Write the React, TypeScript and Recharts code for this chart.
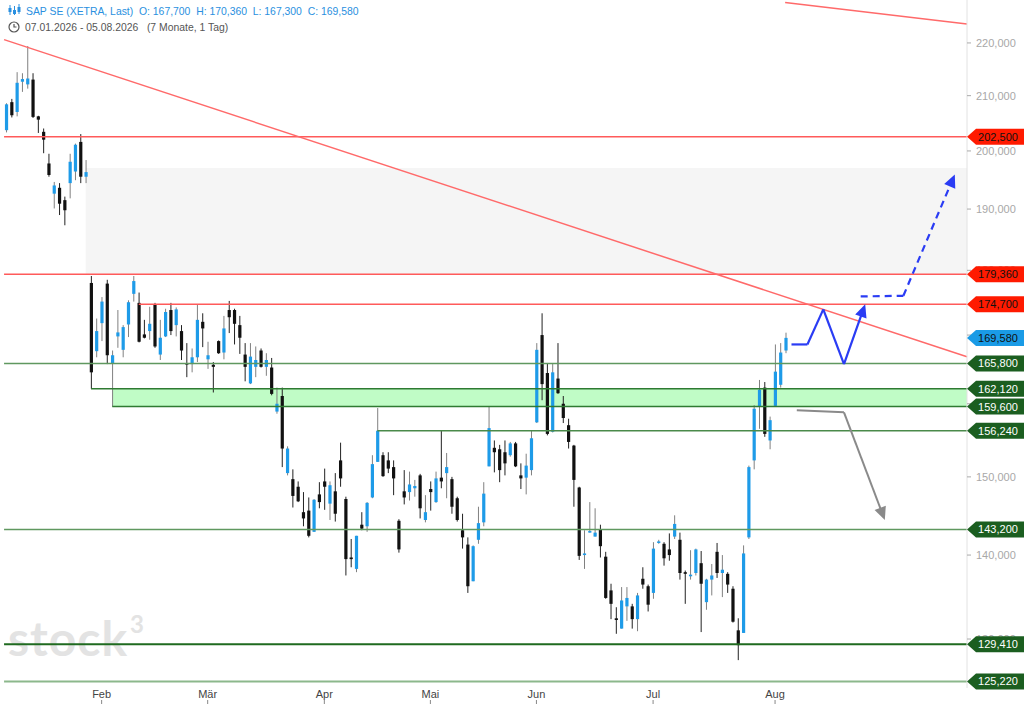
import React from 'react';
import { ComposedChart, Bar, XAxis, YAxis, ReferenceLine, ReferenceArea } from 'recharts';

// daily OHLC, 07.01.2026 - 05.08.2026 (148 trading days)
const opens = [
  203.7, 208.8, 207.0, 212.6, 212.1, 213.0, 206.2, 203.4, 197.8, 192.6, 193.6, 191.5, 194.4, 196.4, 201.6, 195.5,
  178.0, 167.6, 171.8, 177.9, 165.8, 169.8, 167.8, 171.6, 176.3, 174.9, 170.1, 170.6, 174.7, 167.1, 169.8, 173.8,
  171.5, 170.6, 165.8, 165.7, 166.7, 172.0, 166.4, 165.6, 169.1, 167.4, 173.8, 173.8, 171.5, 167.1, 162.9, 165.3,
  167.7, 165.3, 165.2, 158.9, 161.1, 150.5, 149.7, 148.7, 145.4, 145.6, 142.9, 147.7, 149.4, 146.5, 148.1, 152.2,
  147.1, 139.7, 138.3, 143.8, 143.6, 147.3, 152.0, 152.9, 152.2, 151.3, 144.3, 148.1, 148.0, 148.5, 150.2, 144.4,
  148.4, 146.7, 149.9, 150.5, 149.7, 147.2, 143.1, 141.3, 136.8, 141.9, 144.1, 151.4, 153.9, 153.7, 153.3, 152.9,
  154.5, 150.2, 149.9, 150.9, 157.4, 170.0, 164.4, 156.1, 163.6, 160.0, 157.0, 154.2, 148.6, 140.0, 142.8, 142.3,
  143.2, 139.8, 135.7, 132.4, 131.2, 133.8, 133.8, 132.3, 137.1, 136.2, 135.4, 141.5, 141.4, 140.7, 142.3, 141.9,
  137.9, 137.4, 137.8, 139.0, 134.3, 137.0, 140.4, 137.8, 137.7, 135.9, 131.0, 130.7, 142.2, 152.2, 159.6, 162.3,
  154.9, 159.7, 162.7, 167.7,
];
const highs = [
  208.6, 209.4, 214.4, 214.2, 219.4, 214.2, 206.3, 204.0, 199.5, 194.6, 194.4, 192.1, 199.5, 201.3, 203.0, 198.4,
  179.1, 172.5, 175.8, 178.5, 167.7, 173.8, 171.5, 175.3, 179.1, 176.5, 172.3, 174.3, 174.9, 172.3, 174.0, 174.9,
  174.2, 171.5, 168.8, 168.0, 174.6, 173.3, 169.0, 166.0, 169.2, 172.9, 175.2, 174.0, 172.9, 168.8, 168.8, 168.3,
  168.0, 167.3, 166.6, 162.3, 162.3, 154.1, 151.0, 149.4, 148.0, 147.3, 147.1, 149.3, 151.1, 149.4, 150.5, 154.6,
  147.4, 142.0, 142.4, 145.4, 146.7, 152.9, 159.4, 153.3, 153.3, 152.2, 144.5, 150.9, 150.7, 149.6, 150.4, 147.6,
  149.4, 150.7, 156.3, 153.2, 150.0, 147.4, 145.2, 142.2, 141.2, 146.1, 149.3, 159.6, 154.9, 154.3, 154.9, 154.7,
  154.7, 151.8, 153.1, 156.2, 168.8, 173.3, 165.8, 165.8, 168.8, 161.1, 157.9, 154.3, 148.7, 143.1, 146.7, 145.9,
  143.8, 140.4, 136.5, 133.7, 136.1, 136.1, 134.1, 135.4, 138.5, 136.4, 141.6, 141.9, 141.6, 142.7, 145.0, 142.8,
  138.1, 140.6, 140.8, 140.5, 137.1, 138.9, 141.5, 140.0, 137.9, 136.2, 132.4, 141.2, 151.5, 159.8, 163.4, 163.1,
  158.2, 168.6, 168.8, 170.36,
];
const lows = [
  203.3, 206.0, 206.2, 210.7, 211.3, 205.9, 203.2, 199.6, 195.5, 190.1, 189.0, 187.3, 191.8, 194.9, 194.4, 194.4,
  162.12, 166.7, 169.1, 165.7, 159.6, 168.1, 166.7, 169.7, 175.1, 168.9, 169.5, 169.3, 168.1, 166.3, 169.7, 170.0,
  169.8, 166.3, 163.8, 164.5, 166.0, 168.2, 165.0, 161.6, 167.2, 166.4, 170.3, 168.6, 167.2, 163.2, 162.8, 163.8,
  165.2, 164.0, 161.2, 158.6, 151.3, 150.2, 146.0, 146.7, 143.6, 142.2, 142.9, 145.9, 145.7, 144.4, 144.2, 148.7,
  137.5, 138.5, 137.9, 143.1, 142.9, 147.2, 152.0, 150.0, 150.5, 147.6, 140.3, 146.4, 146.9, 147.4, 144.6, 144.1,
  145.6, 146.6, 148.5, 147.2, 145.2, 144.2, 140.8, 135.4, 136.8, 141.4, 143.6, 151.4, 150.6, 149.3, 150.2, 152.7,
  151.3, 148.4, 147.7, 150.2, 157.3, 160.5, 155.6, 156.0, 161.4, 157.3, 153.8, 146.1, 139.4, 138.3, 142.8, 142.3,
  139.7, 134.7, 132.3, 130.6, 131.2, 132.1, 131.2, 130.9, 135.9, 133.2, 134.7, 141.4, 138.7, 139.3, 142.0, 137.0,
  134.1, 137.0, 137.5, 130.8, 133.4, 135.1, 137.2, 134.9, 135.4, 131.9, 127.6, 130.7, 142.0, 151.0, 156.5, 155.4,
  153.7, 159.6, 162.3, 167.3,
];
const closes = [
  208.4, 206.4, 212.4, 213.1, 213.2, 206.1, 205.6, 202.0, 195.8, 194.0, 190.9, 189.8, 198.1, 201.1, 195.5, 196.3,
  164.5, 170.6, 175.1, 167.0, 167.0, 170.4, 171.2, 175.0, 178.3, 169.0, 169.6, 171.7, 168.3, 169.6, 173.5, 170.6,
  173.9, 167.7, 165.7, 166.7, 172.3, 171.0, 167.0, 165.3, 167.3, 171.0, 172.7, 171.7, 169.6, 165.3, 166.8, 166.3,
  165.3, 166.3, 161.4, 160.0, 153.8, 153.8, 147.5, 146.8, 144.6, 142.4, 147.0, 146.7, 148.7, 148.9, 145.2, 149.8,
  139.5, 139.5, 142.4, 143.3, 146.6, 151.7, 156.24, 150.1, 151.1, 149.8, 140.7, 147.3, 149.0, 148.8, 145.9, 145.4,
  148.0, 149.8, 149.4, 151.3, 146.1, 144.4, 142.2, 136.2, 141.1, 144.0, 147.8, 156.6, 153.3, 150.9, 151.8, 154.5,
  151.4, 149.8, 151.5, 155.2, 167.8, 162.8, 155.8, 164.5, 161.5, 158.0, 154.7, 149.6, 139.9, 140.2, 143.0, 142.8,
  141.1, 134.8, 134.1, 132.2, 134.5, 134.8, 132.3, 135.1, 136.4, 134.0, 140.8, 141.7, 139.6, 140.0, 143.9, 137.8,
  137.7, 137.6, 140.7, 136.5, 137.0, 137.5, 137.8, 138.2, 136.4, 132.0, 129.3, 140.2, 151.3, 159.3, 162.0, 155.8,
  157.7, 164.6, 167.4, 169.58,
];

const monthTicks = [18, 38, 60, 80, 100, 122, 145];
const monthLabels = ['Feb', 'Mär', 'Apr', 'Mai', 'Jun', 'Jul', 'Aug'];
const priceTicks = [130, 140, 150, 160, 170, 180, 190, 200, 210, 220];

// horizontal levels drawn by the analyst
const levelValues = [202.5, 179.36, 174.7, 165.8, 162.12, 159.6, 156.24, 143.2, 129.41, 125.22];
const levelStarts = [-0.4, -0.4, 25, -0.4, 16, 20, 70, -0.4, -0.4, -0.4];
const levelColors = ['#ff5a5a', '#ff5a5a', '#ff5a5a', '#5f985f', '#2f7a32', '#2f7a32', '#4a8a4a', '#5f985f', '#1f6a1f', '#8cb88c'];

const tagValues = [202.5, 179.36, 174.7, 169.58, 165.8, 162.12, 159.6, 156.24, 143.2, 129.41, 125.22];
const tagKinds = ['red', 'red', 'red', 'blue', 'green', 'green', 'green', 'green', 'green', 'green', 'green'];

// trend lines [x1, x2], [y1, y2]
const trendAX = [-0.4, 181.2];
const trendAY = [220.65, 166.78];
const trendBX = [146.9, 181.2];
const trendBY = [228.0, 223.7];

// projection arrows
const zigX = [148.1, 151.1, 154.1, 158.0, 162.0];
const zigY = [168.6, 168.6, 173.9, 165.7, 174.7];
const dashX = [161.15, 169.2, 178.9];
const dashY = [175.9, 176.0, 195.9];
const downX = [149.1, 158.0, 165.7];
const downY = [159.1, 158.8, 144.4];

const X_MIN = -0.6;
const X_MAX = 181.2;
const Y_DOMAIN = [124.5, 228.5];
const FONT = "'Liberation Sans', Arial, sans-serif";

const candles = opens.map((o, i) => ({
  i,
  open: o,
  high: highs[i],
  low: lows[i],
  close: closes[i],
  range: [lows[i], highs[i]],
}));

const fmt = (v: number) => v.toFixed(3).replace('.', ',');

const Candle = (props: any) => {
  const { x, y, width, height, payload } = props;
  if (!payload) return null;
  const top = Math.min(y, y + height);
  const bottom = Math.max(y, y + height);
  const lnH = Math.log(payload.high);
  const span = lnH - Math.log(payload.low) || 1;
  const at = (v: number) => top + ((lnH - Math.log(v)) / span) * (bottom - top);
  const cx = x + width / 2;
  const up = payload.close >= payload.open;
  const bTop = at(Math.max(payload.open, payload.close));
  const bBot = at(Math.min(payload.open, payload.close));
  return (
    <g>
      <line x1={cx} x2={cx} y1={top} y2={bottom} stroke={up ? '#808080' : '#222'} strokeWidth={1} />
      <rect x={cx - 1.6} y={bTop} width={3.2} height={Math.max(bBot - bTop, 1.2)} fill={up ? '#1e9be8' : '#111'} />
    </g>
  );
};

const arrowShape = (color: string, width: number, dash?: string, head?: boolean) => (p: any) => {
  const { x1, y1, x2, y2 } = p;
  const a = Math.atan2(y2 - y1, x2 - x1);
  const len = 13;
  const ex = head ? x2 - Math.cos(a) * len * 0.8 : x2;
  const ey = head ? y2 - Math.sin(a) * len * 0.8 : y2;
  const left = `${x2 - Math.cos(a) * len + Math.sin(a) * 6},${y2 - Math.sin(a) * len - Math.cos(a) * 6}`;
  const right = `${x2 - Math.cos(a) * len - Math.sin(a) * 6},${y2 - Math.sin(a) * len + Math.cos(a) * 6}`;
  return (
    <g>
      <line x1={x1} y1={y1} x2={ex} y2={ey} stroke={color} strokeWidth={width} strokeDasharray={dash} />
      {head && <polygon points={`${x2},${y2} ${left} ${right}`} fill={color} />}
    </g>
  );
};

const tagFill: Record<string, string> = { red: '#ff1a00', blue: '#1a9be6', green: '#1b5e20' };
const tagText: Record<string, string> = { red: '#111', blue: '#111', green: '#fff' };

const tagLabel = (value: number, kind: string) => (p: any) => {
  const vb = p.viewBox || {};
  const x = (vb.x ?? 0) + (vb.width ?? 0);
  const y = vb.y ?? 0;
  const pts = `${x},${y} ${x + 9},${y - 8} ${x + 57},${y - 8} ${x + 57},${y + 8} ${x + 9},${y + 8}`;
  return (
    <g>
      <polygon points={pts} fill={tagFill[kind]} />
      <text x={x + 31} y={y + 4} textAnchor="middle" fontSize={11} fontFamily={FONT} fill={tagText[kind]}>
        {fmt(value)}
      </text>
    </g>
  );
};

const MonthTick = (p: any) => {
  const { x, y, payload } = p;
  const label = monthLabels[monthTicks.indexOf(payload.value)] ?? '';
  return (
    <g>
      <text x={x} y={y + 10} textAnchor="middle" fontSize={11} fontFamily={FONT} fill="#444">
        {label}
      </text>
      <line x1={x} x2={x} y1={y + 12} y2={y + 16} stroke="#888" />
    </g>
  );
};

const polySegments = (xs: number[], ys: number[], color: string, width: number, dash: string | undefined, key: string) =>
  xs.slice(1).map((_, k) => (
    <ReferenceLine
      key={`${key}${k}`}
      segment={[
        { x: xs[k], y: ys[k] },
        { x: xs[k + 1], y: ys[k + 1] },
      ]}
      shape={arrowShape(color, width, dash, k === xs.length - 2)}
    />
  ));

const CandleIcon = () => (
  <svg width="13" height="12" viewBox="0 0 13 12" style={{ verticalAlign: '-1px', marginRight: 5 }}>
    <g stroke="#2a90e0" strokeWidth="1">
      <line x1="2" y1="1" x2="2" y2="11" />
      <line x1="6.5" y1="2" x2="6.5" y2="11" />
      <line x1="11" y1="0" x2="11" y2="10" />
    </g>
    <g fill="#2a90e0">
      <rect x="0.5" y="4" width="3" height="4" />
      <rect x="5" y="6" width="3" height="4" />
      <rect x="9.5" y="3" width="3" height="5" />
    </g>
  </svg>
);

const ClockIcon = () => (
  <svg width="12" height="12" viewBox="0 0 12 12" style={{ verticalAlign: '-2px', marginRight: 5 }}>
    <circle cx="6" cy="6" r="5" fill="none" stroke="#555" strokeWidth="1.2" />
    <path d="M6 3 V6 H8.5" fill="none" stroke="#555" strokeWidth="1.2" />
  </svg>
);

export default function App() {
  return (
    <div style={{ position: 'absolute', left: 0, top: 0, width: 1024, height: 704, background: '#fff', overflow: 'hidden' }}>
      {/* watermark sits under the chart */}
      <div
        style={{
          position: 'absolute',
          left: 8,
          top: 614,
          fontFamily: 'Lato, sans-serif',
          fontWeight: 700,
          fontSize: 48,
          lineHeight: '48px',
          letterSpacing: 1,
          color: '#e3e3e3',
        }}
      >
        stock
      </div>
      <div
        style={{
          position: 'absolute',
          left: 130,
          top: 612,
          fontFamily: 'Lato, sans-serif',
          fontWeight: 700,
          fontSize: 24,
          lineHeight: '24px',
          color: '#e3e3e3',
        }}
      >
        3
      </div>

      <div style={{ position: 'absolute', left: 0, top: 0 }}>
        <ComposedChart width={1024} height={704} data={candles} margin={{ top: 0, right: 0, left: 3, bottom: 0 }}>
          <ReferenceArea x1={15} x2={X_MAX} y1={179.36} y2={197.0} fill="#f5f5f5" fillOpacity={1} stroke="none" />
          <ReferenceArea x1={20} x2={X_MAX} y1={159.6} y2={162.12} fill="#c0fcc6" fillOpacity={1} stroke="none" />
          <XAxis
            dataKey="i"
            type="number"
            domain={[X_MIN, X_MAX]}
            allowDataOverflow
            ticks={monthTicks}
            tick={<MonthTick />}
            tickLine={false}
            axisLine={false}
            tickSize={0}
            tickMargin={0}
            height={16}
            interval={0}
          />
          <YAxis
            orientation="right"
            scale="log"
            domain={Y_DOMAIN}
            allowDataOverflow
            ticks={priceTicks}
            tickFormatter={fmt}
            width={57}
            tickSize={4}
            tickMargin={5}
            interval={0}
            tick={{ fontSize: 11, fill: '#a8a8a8', fontFamily: FONT, textAnchor: 'start' }}
            tickLine={{ stroke: '#aaa' }}
            axisLine={{ stroke: '#e2e2e2' }}
          />
          {levelValues.map((v, k) => (
            <ReferenceLine
              key={`lvl${k}`}
              segment={[
                { x: levelStarts[k], y: v },
                { x: X_MAX, y: v },
              ]}
              stroke={levelColors[k]}
              strokeWidth={k >= 8 ? 2 : 1.5}
            />
          ))}
          <ReferenceLine
            segment={[
              { x: trendAX[0], y: trendAY[0] },
              { x: trendAX[1], y: trendAY[1] },
            ]}
            stroke="#ff6a6a"
            strokeWidth={1.5}
          />
          <ReferenceLine
            segment={[
              { x: trendBX[0], y: trendBY[0] },
              { x: trendBX[1], y: trendBY[1] },
            ]}
            stroke="#ff6a6a"
            strokeWidth={1.5}
          />
          <Bar dataKey="range" barSize={4} isAnimationActive={false} shape={(p: any) => <Candle {...p} />} />
          {polySegments(zigX, zigY, '#2a3cf4', 2.2, undefined, 'zig')}
          {polySegments(dashX, dashY, '#2a3cf4', 2.2, '7 5', 'dash')}
          {polySegments(downX, downY, '#8a8a8a', 2, undefined, 'down')}
        </ComposedChart>
      </div>

      {/* price tags drawn on a second chart with the same scales, so they cover the axis labels */}
      <div style={{ position: 'absolute', left: 0, top: 0 }}>
        <ComposedChart width={1024} height={704} data={candles} margin={{ top: 0, right: 57, left: 3, bottom: 16 }}>
          <XAxis dataKey="i" type="number" domain={[X_MIN, X_MAX]} allowDataOverflow hide />
          <YAxis scale="log" domain={Y_DOMAIN} allowDataOverflow hide />
          {tagValues.map((v, k) => (
            <ReferenceLine key={`tag${k}`} y={v} stroke="none" label={tagLabel(v, tagKinds[k])} />
          ))}
        </ComposedChart>
      </div>

      <div
        style={{
          position: 'absolute',
          left: 8,
          top: 4,
          fontFamily: FONT,
          fontSize: 10.4,
          lineHeight: '14px',
          whiteSpace: 'pre',
        }}
      >
        <div style={{ color: '#2a90e0' }}>
          <CandleIcon />
          {'SAP SE (XETRA, Last)  O: 167,700  H: 170,360  L: 167,300  C: 169,580'}
        </div>
        <div style={{ color: '#555', marginTop: 2 }}>
          <ClockIcon />
          {'07.01.2026 - 05.08.2026   (7 Monate, 1 Tag)'}
        </div>
      </div>
    </div>
  );
}
